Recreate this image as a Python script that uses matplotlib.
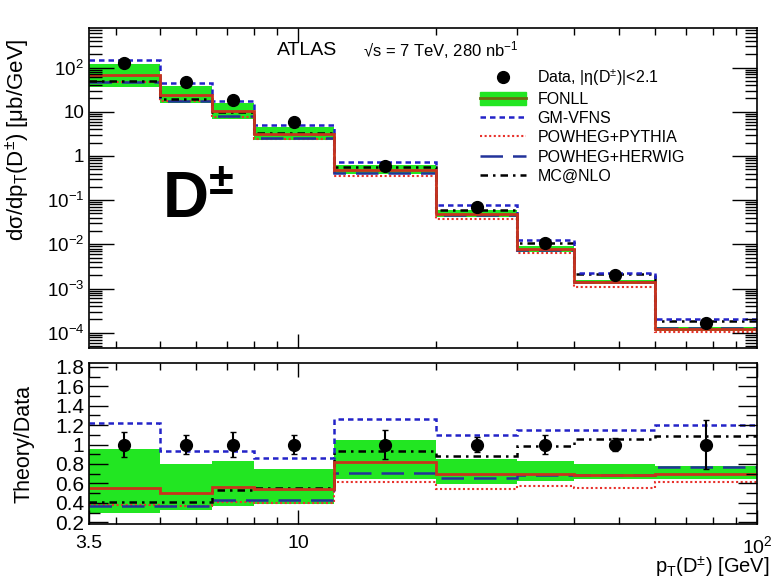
import numpy as np
import matplotlib
matplotlib.use("Agg")
import matplotlib.pyplot as plt
from matplotlib.lines import Line2D
from matplotlib.patches import Patch
from matplotlib.ticker import FixedLocator, NullFormatter, LogLocator, MultipleLocator, FuncFormatter

plt.rcParams['font.family'] = ['Liberation Sans', 'DejaVu Sans']
plt.rcParams['mathtext.default'] = 'regular'

# pT bins (GeV) and data
edges = [3.5, 5, 6.5, 8, 12, 20, 30, 40, 60, 100]
centers = [4.18, 5.70, 7.21, 9.80, 15.5, 24.5, 34.6, 49.0, 77.5]
data = [124, 48, 18.7, 5.9, 0.59, 0.069, 0.011, 0.0020, 1.7e-4]
data_relerr = [0.13, 0.10, 0.13, 0.10, 0.15, 0.08, 0.10, 0.07, 0.25]

# theory / data ratios per bin
fonll = [0.55, 0.50, 0.56, 0.54, 0.82, 0.70, 0.70, 0.69, 0.70]
fonll_up = [0.95, 0.80, 0.83, 0.75, 1.05, 0.85, 0.83, 0.80, 0.78]
fonll_dn = [0.29, 0.33, 0.37, 0.39, 0.65, 0.59, 0.62, 0.64, 0.64]
gmvfns = [1.22, 0.93, 0.93, 0.86, 1.26, 1.10, 1.15, 1.15, 1.20]
pythia = [0.38, 0.37, 0.41, 0.40, 0.61, 0.54, 0.57, 0.55, 0.61]
herwig = [0.37, 0.37, 0.43, 0.43, 0.71, 0.66, 0.69, 0.69, 0.77]
mcatnlo = [0.41, 0.41, 0.53, 0.55, 0.93, 0.88, 0.98, 1.06, 1.09]

green = '#22e622'
c_fonll = '#c8341c'
c_gm = '#2323c8'
c_py = '#e8322c'
c_hw = '#22339a'
ls_py = (0, (1, 1.2))
ls_gm = (0, (2.2, 1.6))
ls_hw = (0, (9, 4))
ls_mc = (0, (3, 2, 1, 2))

d = np.array(data)

fig = plt.figure(figsize=(7.71, 5.85), dpi=100)
ax = fig.add_axes([0.1154, 0.405, 0.8664, 0.547])
rx = fig.add_axes([0.1154, 0.104, 0.8664, 0.2755])

# ---- top panel
ax.stairs(d * np.array(fonll_up), edges, baseline=d * np.array(fonll_dn), fill=True, color=green, lw=0)
ax.stairs(d * np.array(pythia), edges, color=c_py, lw=1.5, ls=ls_py, baseline=None)
ax.stairs(d * np.array(herwig), edges, color=c_hw, lw=1.8, ls=ls_hw, baseline=None)
ax.stairs(d * np.array(mcatnlo), edges, color='black', lw=1.8, ls=ls_mc, baseline=None)
ax.stairs(d * np.array(gmvfns), edges, color=c_gm, lw=1.8, ls=ls_gm, baseline=None)
ax.stairs(d * np.array(fonll), edges, color=c_fonll, lw=2, baseline=None)
ax.errorbar(centers, d, yerr=d * np.array(data_relerr), fmt='o', color='black', ms=8.5, lw=1.5, zorder=5)

ax.set_xscale('log')
ax.set_yscale('log')
ax.set_xlim(3.5, 100)
ax.set_ylim(4.5e-5, 780)

def logfmt(v, pos):
    n = int(round(np.log10(v)))
    if n == 0:
        return '1'
    if n == 1:
        return '10'
    return '$10^{%d}$' % n

ax.yaxis.set_major_locator(FixedLocator([1e-4, 1e-3, 1e-2, 1e-1, 1, 10, 100]))
ax.yaxis.set_major_formatter(FuncFormatter(logfmt))
ax.yaxis.set_minor_locator(LogLocator(base=10, subs=np.arange(2, 10), numticks=20))
ax.yaxis.set_minor_formatter(NullFormatter())

for a in (ax, rx):
    a.xaxis.set_major_locator(FixedLocator([10]))
    a.xaxis.set_minor_locator(FixedLocator([4, 5, 6, 7, 8, 9, 20, 30, 40, 50, 60, 70, 80, 90]))
    a.xaxis.set_minor_formatter(NullFormatter())
    a.tick_params(which='both', direction='in', top=True, right=True, labelsize=13.5)
    a.tick_params(which='major', length=10, width=1)
    a.tick_params(which='minor', length=5, width=1)
    for s in a.spines.values():
        s.set_linewidth(1.2)
ax.xaxis.set_major_formatter(NullFormatter())
ax.tick_params(axis='y', which='major', length=18)
ax.tick_params(axis='y', which='minor', length=9)

ax.set_ylabel(r'd$\sigma$/dp$_{T}$(D$^{\pm}$) [$\mu$b/GeV]', fontsize=16)
ax.yaxis.set_label_coords(-0.085, 0.65)

ax.text(0.282, 0.93, 'ATLAS', transform=ax.transAxes, fontsize=14, ha='left', va='center')
ax.text(0.41, 0.93, '√s = 7 TeV, 280 nb$^{-1}$', transform=ax.transAxes, fontsize=12,
        ha='left', va='center')
ax.text(0.11, 0.46, r'D$^{\pm}$', transform=ax.transAxes, fontsize=46, fontweight='bold',
        ha='left', va='center')

handles = [
    Line2D([], [], marker='o', color='black', ls='none', ms=8.5),
    (Patch(color=green), Line2D([], [], color='#6b6b10', lw=2)),
    Line2D([], [], color=c_gm, lw=1.8, ls=ls_gm),
    Line2D([], [], color=c_py, lw=1.5, ls=ls_py),
    Line2D([], [], color=c_hw, lw=1.8, ls=ls_hw),
    Line2D([], [], color='black', lw=1.8, ls=ls_mc),
]
labels = [r'Data, |$\eta$(D$^{\pm}$)|<2.1', 'FONLL', 'GM-VFNS', 'POWHEG+PYTHIA', 'POWHEG+HERWIG', 'MC@NLO']
ax.legend(handles, labels, loc='upper left', bbox_to_anchor=(0.585, 0.876), frameon=False,
          fontsize=11.5, handlelength=2.9, handleheight=0.9, labelspacing=0.25, handletextpad=0.7,
          borderpad=0, borderaxespad=0)

# ---- ratio panel
rx.stairs(fonll_up, edges, baseline=fonll_dn, fill=True, color=green, lw=0)
rx.stairs(pythia, edges, color=c_py, lw=1.5, ls=ls_py, baseline=None)
rx.stairs(herwig, edges, color=c_hw, lw=1.8, ls=ls_hw, baseline=None)
rx.stairs(mcatnlo, edges, color='black', lw=1.8, ls=ls_mc, baseline=None)
rx.stairs(gmvfns, edges, color=c_gm, lw=1.8, ls=ls_gm, baseline=None)
rx.stairs(fonll, edges, color=c_fonll, lw=2, baseline=None)
rx.errorbar(centers, np.ones(len(centers)), yerr=data_relerr, fmt='o', color='black', ms=8.5,
            lw=1.5, capsize=2, zorder=5)

rx.set_xscale('log')
rx.set_xlim(3.5, 100)
rx.set_ylim(0.18, 1.84)
rx.xaxis.set_major_locator(FixedLocator([3.5, 10, 100]))
rx.xaxis.set_major_formatter(FuncFormatter(lambda v, p: {3.5: '3.5', 10: '10', 100: '$10^2$'}.get(round(v, 1), '')))
rx.yaxis.set_major_locator(MultipleLocator(0.2))
rx.yaxis.set_minor_locator(MultipleLocator(0.1))
rx.yaxis.set_major_formatter(FuncFormatter(lambda v, p: '%g' % round(v, 1)))
rx.tick_params(axis='x', which='major', pad=8, labelsize=14)
rx.tick_params(axis='y', which='major', length=14, labelsize=15)
rx.tick_params(axis='y', which='minor', length=8)
rx.set_ylabel('Theory/Data', fontsize=15.5)
rx.yaxis.set_label_coords(-0.081, 0.5)
fig.text(0.998, 0.03, r'p$_{T}$(D$^{\pm}$) [GeV]', fontsize=14.5, ha='right', va='center')

fig.savefig('out.png', dpi=100)
